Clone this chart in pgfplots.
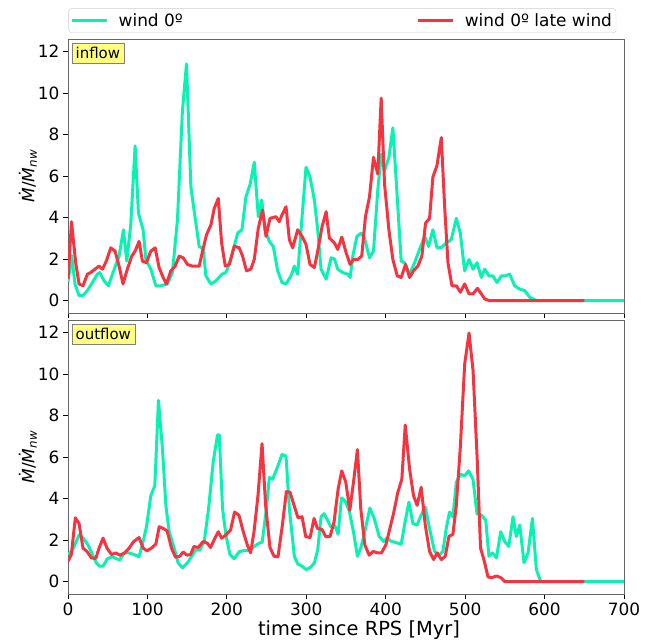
\documentclass[border=0pt]{standalone}
\usepackage{fontspec}
\setmainfont{DejaVu Sans}
\usepackage{pgfplots}
\pgfplotsset{compat=1.18}
\definecolor{cgreen}{RGB}{10,242,178}
\definecolor{cred}{RGB}{244,52,64}
\definecolor{boxy}{RGB}{255,255,128}
\pgfplotsset{
  myax/.style={
    scale only axis, width=556bp, height=274bp,
    xmin=0, xmax=700, ymin=-0.6, ymax=12.6,
    xtick={0,100,...,700}, ytick={0,2,...,12},
    tick align=outside, major tick length=5bp,
    tick pos=left,
    tick style={black, line width=0.8bp},
    axis line style={black!60, line width=0.8bp},
    ticklabel style={font=\fontsize{17}{20}\selectfont},
    /pgf/number format/assume math mode=true,
    ylabel={\textit{\.M}/\textit{\.M}\textsubscript{\textit{nw}}},
    ylabel style={at={(axis description cs:-0.072,0.5)}, anchor=center, font=\fontsize{17}{20}\selectfont},
    every axis plot/.append style={line width=3bp, line join=round},
  }
}
\begin{document}
\begin{tikzpicture}
\useasboundingbox (0,0) rectangle (663bp,641bp);
\begin{axis}[myax, at={(68bp,328bp)}, anchor=south west, xticklabels={},
  legend columns=2,
  legend style={at={(0,1)}, anchor=south west, xshift=0.5bp, yshift=6bp, draw=black!20, rounded corners=3bp,
    inner xsep=2bp, inner ysep=3bp, font=\fontsize{17}{20}\selectfont,
    /tikz/every even column/.append style={column sep=232bp}},
  legend cell align=left,
  legend image code/.code={\draw[#1, line width=3bp] (0bp,0bp) -- (35bp,0bp); \path (43bp,0bp);},
]
\addplot[cgreen] coordinates {(0,0.9)(4.6,2.17)(8.8,0.8)(13.9,0.24)(18.9,0.24)(24.4,0.48)(30.7,0.87)(37,1.27)(40,1.35)(45.4,0.95)(50.8,0.71)(56.7,1.35)(64.3,2.14)(69.8,3.41)(74,1.9)(79,3.65)(84.5,7.45)(88.7,4.2)(94.6,3.41)(98,1.98)(104.3,1.51)(110.6,0.71)(117,0.71)(125.2,0.8)(131.5,1.35)(137.8,3.88)(144,9.1)(149.2,11.4)(154.7,5.47)(158.9,4.3)(165.2,2.6)(170.2,2.5)(173.6,1.19)(180,0.8)(186.3,0.95)(193.8,1.27)(198.9,1.35)(205,1.98)(213.6,3.25)(219,3.41)(224,5.0)(229.3,5.6)(234.5,6.66)(239.6,4.04)(243.9,4.84)(248,3.4)(253.5,2.85)(258.5,2.6)(264,1.43)(269.4,0.87)(274.5,0.8)(280.8,1.19)(285,1.66)(289.2,1.27)(294.7,4.04)(299.7,6.42)(304.7,5.95)(310.2,4.84)(314.4,3.4)(318.6,1.51)(325,1.03)(331.3,2.06)(335.5,2.0)(339.6,1.51)(345.9,1.35)(352.2,1.27)(355.2,1.11)(358.6,2.14)(363.7,3.09)(369.1,3.25)(373.3,3.0)(379.6,2.06)(384.6,2.38)(390,5.31)(394.3,7.05)(398.5,6.26)(404,6.9)(409,8.32)(413.2,5.79)(419.5,1.9)(423.7,1.82)(430,1.27)(436.3,1.82)(442.6,2.46)(449,3.09)(454,2.6)(459.4,3.41)(464.5,2.55)(469.9,2.55)(476.3,2.78)(482.5,2.93)(488.9,3.96)(493.9,3.25)(499.4,1.43)(504.9,1.98)(510,1.51)(515,1.82)(520.4,1.11)(524.6,1.51)(530,1.19)(535,1.19)(540.1,0.87)(545.6,1.19)(551,1.19)(556.1,1.27)(562.4,0.71)(568.7,0.55)(575,0.48)(581.3,0.16)(589.7,0)(700,0)};
\addlegendentry{wind 0º}
\addplot[cred] coordinates {(0,1.03)(4.4,3.8)(9.7,1.82)(13.9,0.8)(18.9,0.71)(24.4,1.27)(28.6,1.35)(34,1.51)(39,1.66)(43.3,1.51)(48.3,1.9)(53.8,2.54)(59.3,2.38)(64.3,1.66)(69.3,0.8)(74.7,1.51)(80.3,2.14)(84.5,2.38)(89.5,2.85)(93.7,1.9)(98.7,1.82)(104.3,2.38)(109.7,2.54)(114.7,1.59)(119.8,1.11)(124,0.8)(129.5,1.43)(135,1.66)(140,2.14)(145,2.06)(150.4,1.74)(156.7,1.66)(165.2,1.66)(169.4,2.38)(174.4,3.17)(180,3.65)(184.1,4.44)(189.2,4.92)(193.4,2.78)(198,1.66)(203.1,1.74)(209.3,2.62)(215.6,2.54)(219.8,2.14)(224.8,1.43)(230.2,1.51)(234.5,1.98)(239.6,3.49)(245,4.36)(249.3,3.09)(254.3,3.96)(261.9,4.04)(266,3.8)(269.4,4.12)(274.5,4.52)(278.7,2.93)(282.9,2.54)(289.2,3.41)(294.7,3.09)(299.7,2.7)(304.7,1.74)(310.2,1.59)(314.4,2.38)(319.9,3.57)(325,4.28)(329.1,3.01)(335.4,2.78)(339.6,2.46)(344.7,3.06)(350.2,2.3)(355.2,1.74)(359.4,1.98)(364.8,1.98)(369.8,2.14)(374.5,4.04)(379.6,5.0)(384.6,6.9)(390,6.1)(394.3,9.75)(398.5,5.63)(404,3.41)(409,1.98)(414.5,1.19)(419.5,1.11)(425,1.74)(430,1.11)(435,1.43)(440.5,1.66)(445.5,2.14)(450.2,3.73)(455.2,3.96)(459.4,5.95)(464.5,6.5)(470,7.85)(474.2,4.52)(478.4,1.82)(483.4,0.71)(488.9,0.71)(494,0.4)(499.4,0.8)(504.9,0.32)(510,0.32)(515.5,0.59)(520.4,0.32)(524.6,0.08)(530,0)(650,0)};
\addlegendentry{wind 0º late wind}
\node[anchor=north west, fill=boxy, draw=black!50, inner xsep=4bp, inner ysep=4bp, font=\fontsize{15}{18}\selectfont] at ([xshift=3.5bp,yshift=-4bp]rel axis cs:0,1) {inflow};
\end{axis}
\begin{axis}[myax, at={(68bp,47bp)}, anchor=south west,
  xlabel={time since RPS [Myr]},
  xlabel style={font=\fontsize{19.5}{23}\selectfont, inner sep=2bp, xshift=13bp},
]
\addplot[cgreen] coordinates {(0,1.3)(5.5,1.5)(13.9,2.24)(18.9,2.1)(25.2,1.77)(30.7,1.3)(35.7,0.9)(40,0.74)(44.1,0.74)(49.6,1.1)(55.9,1.2)(60.9,1.1)(65.1,1.04)(70.6,1.38)(76.9,1.38)(83.2,1.3)(89.5,1.2)(94.6,1.93)(98.8,2.64)(104.3,4.14)(109.3,4.62)(113.9,8.73)(119,6.36)(123.2,3.67)(127.4,2.4)(133.7,1.61)(138.7,0.9)(144.1,0.66)(150.4,0.9)(155.4,1.2)(161,1.53)(166.1,1.53)(171.5,1.93)(177,3.51)(182.9,5.8)(188.3,7.07)(190.4,7.07)(194.6,3.51)(198.8,2.24)(203.9,1.3)(209.3,1.1)(215.6,1.44)(222,1.49)(228.3,1.49)(234.5,1.7)(240.9,1.85)(244.5,1.9)(249.3,3.35)(253.5,5.01)(257.6,4.93)(262.7,5.41)(269.4,6.12)(274.5,6.04)(278.7,3.51)(285,1.22)(289.2,0.85)(294.7,0.74)(299.7,0.58)(304.7,0.66)(310.2,0.9)(314.4,1.53)(318.6,3.12)(322.4,3.27)(326.6,2.97)(330.8,2.64)(335.8,2.7)(340.1,2.28)(344.3,4.03)(348.5,3.9)(353.9,3.43)(359.4,2.4)(364.4,1.22)(368.6,1.61)(373.7,2.4)(380,3.54)(385.5,3.04)(391.8,2.17)(397.3,1.93)(401.5,2.1)(406.5,1.95)(411,1.9)(419.5,1.8)(423.7,2.72)(429.2,3.83)(434.2,2.8)(439.4,2.72)(444.7,3.2)(449.8,3.59)(455.2,2.56)(461.5,1.45)(467,1.27)(472,1.45)(476.2,2.56)(480.4,3.35)(484.6,3.12)(488.9,4.78)(494,5.17)(499.4,5.1)(504.4,5.33)(509.9,4.93)(514.9,3.27)(520.4,3.2)(525.9,2.96)(530,1.22)(534.4,1.38)(539.4,1.14)(544.8,2.4)(549.8,1.93)(554.9,1.69)(560.3,3.12)(564.5,2.17)(568.7,2.72)(574.2,0.9)(579.2,1.38)(584.7,3.04)(589.7,0.58)(594.8,0.03)(597,0)(700,0)};
\addplot[cred] coordinates {(0,0.98)(4.2,1.3)(9.2,3.07)(13.9,2.8)(18.9,1.61)(23.9,1.45)(29.4,1.14)(34.9,1.11)(39.1,1.61)(44.1,2.09)(49.2,1.61)(54.7,1.3)(60.1,1.38)(65.2,1.27)(71.5,1.38)(76.9,1.61)(82.8,1.93)(89.5,2.12)(94.6,1.61)(99.6,1.48)(105.1,1.61)(110.6,1.8)(114.8,2.64)(119.8,2.56)(124.8,2.44)(130.3,1.61)(135.4,1.17)(140.8,1.22)(145,1.42)(150.1,1.27)(154.3,1.3)(158.5,1.69)(163.9,1.64)(170.2,1.93)(175.3,1.85)(179.5,1.64)(185,2.09)(189.2,2.4)(193.4,2.09)(198.8,2.24)(204.7,2.48)(209.7,3.35)(215.2,3.2)(220.7,2.4)(225.7,1.77)(229.9,1.38)(234.2,2.4)(239.2,4.14)(244.3,6.64)(248.8,3.67)(254.3,1.64)(259.4,1.22)(264.4,1.19)(269.9,2.72)(274.9,4.33)(279.6,4.3)(284.6,3.67)(289.6,3.07)(294.7,3.12)(299.3,2.17)(304.8,2.12)(309.8,3.04)(314,2.56)(319.5,2.52)(324.5,2.17)(330,2.17)(335,2.88)(340.1,4.46)(344.7,5.33)(349.8,4.78)(354.8,3.43)(359.4,4.78)(364.4,6.36)(368.6,3.51)(373.7,1.77)(379.2,1.27)(384.2,1.45)(389.7,1.38)(394.7,1.38)(400.2,1.77)(404.8,2.48)(409.8,3.27)(415.3,4.3)(420.3,4.93)(424.6,7.54)(430.1,5.41)(435,4.14)(439.6,3.67)(444.7,4.54)(449.8,2.72)(455.2,1.45)(460.3,1.06)(464.9,1.38)(470,1.06)(475,1.22)(479.6,2.17)(484.6,2.28)(488.9,3.67)(494,6.51)(499.4,10.47)(504.9,11.97)(510,10.15)(515.2,5.88)(519.4,1.61)(524,1.0)(528.8,0.22)(533.9,0.19)(539.4,0.27)(544.8,0.19)(549.8,0)(650,0)};
\node[anchor=north west, fill=boxy, draw=black!50, inner xsep=4bp, inner ysep=4bp, font=\fontsize{15}{18}\selectfont] at ([xshift=3.5bp,yshift=-4bp]rel axis cs:0,1) {outflow};
\end{axis}
\end{tikzpicture}
\end{document}
